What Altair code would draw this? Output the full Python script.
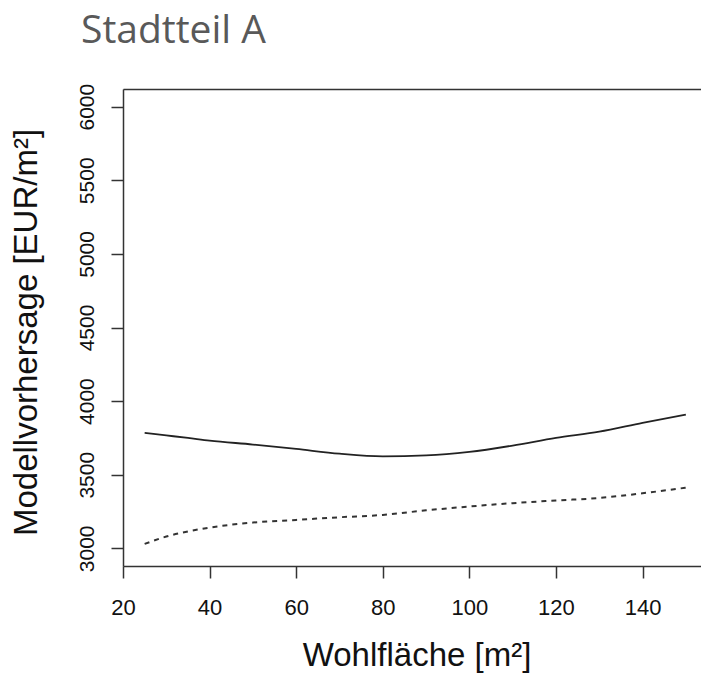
import altair as alt
import pandas as pd

# Wohnfläche [m²] grid of the two prediction curves
flaeche = [25, 30, 35, 40, 50, 60, 70, 80, 90, 100, 110, 120, 130, 140, 150]
# solid curve (Modellvorhersage)
vorhersage_solid = [3784, 3767, 3750, 3732, 3705, 3675, 3643, 3625, 3631, 3655, 3698, 3750, 3792, 3852, 3908]
# dashed curve
vorhersage_dashed = [3030, 3080, 3115, 3141, 3175, 3193, 3211, 3227, 3258, 3284, 3307, 3325, 3342, 3374, 3412]

x_ticks = [20, 40, 60, 80, 100, 120, 140]
y_ticks = [3000, 3500, 4000, 4500, 5000, 5500, 6000]

df = pd.DataFrame({
    "Wohlfläche": flaeche * 2,
    "Vorhersage": vorhersage_solid + vorhersage_dashed,
    "Kurve": ["solid"] * len(flaeche) + ["dashed"] * len(flaeche),
})

FONT = "Liberation Sans"
AX = "#333333"

x_scale = alt.Scale(domain=[20, 153.5], nice=False, zero=False)
y_scale = alt.Scale(domain=[2880, 6120], nice=False, zero=False)

y_axis = alt.Axis(
    values=y_ticks, format="d", grid=False, tickSize=12, tickColor=AX, tickWidth=1.5,
    domainColor=AX, domainWidth=1.5, labelFlush=False,
    labelFont=FONT, labelFontSize=21, labelColor="#111111",
    labelAngle=270, labelAlign="center", labelBaseline="alphabetic", labelPadding=18,
    title="Modellvorhersage [EUR/m²]", titleFont=FONT, titleFontSize=33,
    titleFontWeight="normal", titleColor="#111111", titleAngle=270,
    titleAlign="center", titleBaseline="alphabetic", titleX=-87, titleY=243,
)

x_axis_bottom = alt.Axis(
    values=x_ticks, format="d", grid=False, tickSize=12, tickColor=AX, tickWidth=1.5,
    domainColor=AX, domainWidth=1.5, labelFlush=False,
    labelFont=FONT, labelFontSize=22, labelColor="#111111",
    labelBaseline="alphabetic", labelPadding=36,
    title="Wohlfläche [m²]", titleFont=FONT, titleFontSize=33,
    titleFontWeight="normal", titleColor="#111111",
    titleAlign="center", titleBaseline="alphabetic", titleX=293.5, titleY=99,
)

x_axis_top = alt.Axis(
    orient="top", grid=False, ticks=False, labels=False, title=None,
    domainColor=AX, domainWidth=1.5,
)

solid = alt.Chart(df).transform_filter(alt.datum.Kurve == "solid").mark_line(
    color="#222222", strokeWidth=1.8, interpolate="monotone"
).encode(
    x=alt.X("Wohlfläche:Q", scale=x_scale, axis=x_axis_bottom),
    y=alt.Y("Vorhersage:Q", scale=y_scale, axis=y_axis),
)

dashed = alt.Chart(df).transform_filter(alt.datum.Kurve == "dashed").mark_line(
    color="#333333", strokeWidth=2, strokeDash=[5, 5], interpolate="monotone"
).encode(
    x=alt.X("Wohlfläche:Q", scale=x_scale, axis=x_axis_top),
    y=alt.Y("Vorhersage:Q", scale=y_scale, axis=y_axis),
)

chart = alt.layer(solid, dashed).resolve_axis(x="independent").properties(
    width=578, height=477,
    autosize=alt.AutoSizeParams(type="none"),
    padding={"left": 123, "top": 89, "right": 0, "bottom": 109},
    title=alt.TitleParams(
        "Stadtteil A", anchor="start", frame="group", font="Open Sans",
        fontSize=39, fontWeight="normal", color="#595959",
        baseline="alphabetic", dx=-42, offset=1,
    ),
).configure_view(stroke=None).configure(background="white")

chart.save("out.html", embed_options={"renderer": "svg", "actions": False})
